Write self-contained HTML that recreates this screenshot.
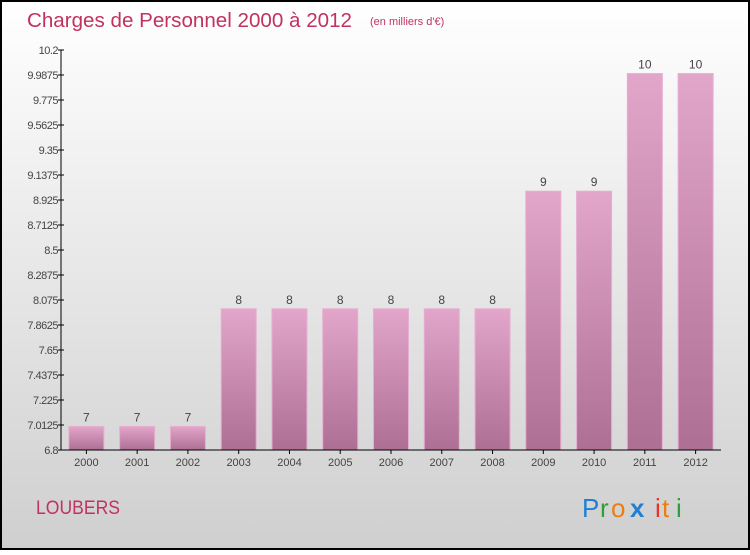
<!DOCTYPE html>
<html><head><meta charset="utf-8"><style>
body{margin:0;padding:0}
#wrap{position:relative;width:750px;height:550px;}
svg text{font-family:"Liberation Sans",sans-serif;}
</style></head><body>
<div id="wrap">
<svg id="chart" width="750" height="550" xmlns="http://www.w3.org/2000/svg">
<defs>
<linearGradient id="bg" x1="0" y1="0" x2="0" y2="1"><stop offset="0" stop-color="#ffffff"/><stop offset="1" stop-color="#cfcfcf"/></linearGradient>
<linearGradient id="bar" x1="0" y1="0" x2="0" y2="1"><stop offset="0" stop-color="#e3a6cb"/><stop offset="1" stop-color="#ad6f94"/></linearGradient>
</defs>
<rect x="1" y="1" width="748" height="548" fill="url(#bg)" stroke="#000" stroke-width="2"/>
<text x="27" y="27" font-size="20" fill="#c2325f" textLength="325" lengthAdjust="spacingAndGlyphs">Charges de Personnel 2000 à 2012</text>
<text x="370" y="25" font-size="11" fill="#c2325f">(en milliers d'€)</text>
<text x="36" y="514" font-size="19" fill="#c2325f" textLength="84" lengthAdjust="spacingAndGlyphs">LOUBERS</text>
<g font-size="26">
<text x="582" y="517" fill="#1f7fd6">P</text><text x="600" y="517" fill="#2e9e3e">r</text><text x="611" y="517" fill="#f07d10">o</text><text x="630" y="517" fill="#1f7fd6" font-weight="bold">x</text><text x="655" y="517" fill="#e8322a">i</text><text x="662" y="517" fill="#f07d10">t</text><text x="676" y="517" fill="#2e9e3e">i</text>
</g>
<g id="bars"></g>
<g id="axes"></g>
</svg>
</div>
<script>
const categories=["2000","2001","2002","2003","2004","2005","2006","2007","2008","2009","2010","2011","2012"];
const values=[7,7,7,8,8,8,8,8,8,9,9,10,10];
const valueLabels=["7","7","7","8","8","8","8","8","8","9","9","10","10"];
const yTicks=[6.8,7.0125,7.225,7.4375,7.65,7.8625,8.075,8.2875,8.5,8.7125,8.925,9.1375,9.35,9.5625,9.775,9.9875,10.2];
const yTickLabels=["6.8","7.0125","7.225","7.4375","7.65","7.8625","8.075","8.2875","8.5","8.7125","8.925","9.1375","9.35","9.5625","9.775","9.9875","10.2"];
const NS="http://www.w3.org/2000/svg";
const X0=61,X1=721,Y0=450,Y1=50,yMin=6.8,yMax=10.2;
const slot=(X1-X0)/categories.length;
function y(v){return Y0-(v-yMin)/(yMax-yMin)*(Y0-Y1);}
function xc(i){return X0+slot*(i+0.5);}
function mk(t,a,p){const e=document.createElementNS(NS,t);for(const k in a)e.setAttribute(k,a[k]);p.appendChild(e);return e;}
const bars=document.getElementById('bars'),axes=document.getElementById('axes');
categories.forEach((c,i)=>{
 const bw=35,top=y(values[i]);
 const r=mk('rect',{x:xc(i)-bw/2,y:top,width:bw,height:Y0-top,fill:'url(#bar)',stroke:'#e7aed0','stroke-width':1},bars);
 
 
 const t=mk('text',{x:xc(i),y:top-5,'text-anchor':'middle','font-size':12,fill:'#444'},bars);
 t.textContent=valueLabels[i];
 
 
 const xl=mk('text',{x:xc(i),y:Y0+16,'text-anchor':'middle','font-size':11,fill:'#444'},axes);
 xl.textContent=c;
 
 
 const tk=mk('line',{x1:xc(i),x2:xc(i),y1:Y0,y2:Y0+4,stroke:'#000'},axes);
 
 
});
yTicks.forEach((v,i)=>{
 const tk=mk('line',{x1:X0-3,x2:X0+3,y1:y(v),y2:y(v),stroke:'#000'},axes);
 
 
 const t=mk('text',{x:X0-3,y:y(v)+4,'text-anchor':'end','font-size':11,fill:'#444','letter-spacing':'-0.5'},axes);
 t.textContent=yTickLabels[i];
 
 
});
const ya=mk('line',{x1:X0,x2:X0,y1:Y1,y2:Y0,stroke:'#000','stroke-width':1},axes);


const xa=mk('line',{x1:X0,x2:X1,y1:Y0,y2:Y0,stroke:'#000','stroke-width':1},axes);


</script>
</body></html>
